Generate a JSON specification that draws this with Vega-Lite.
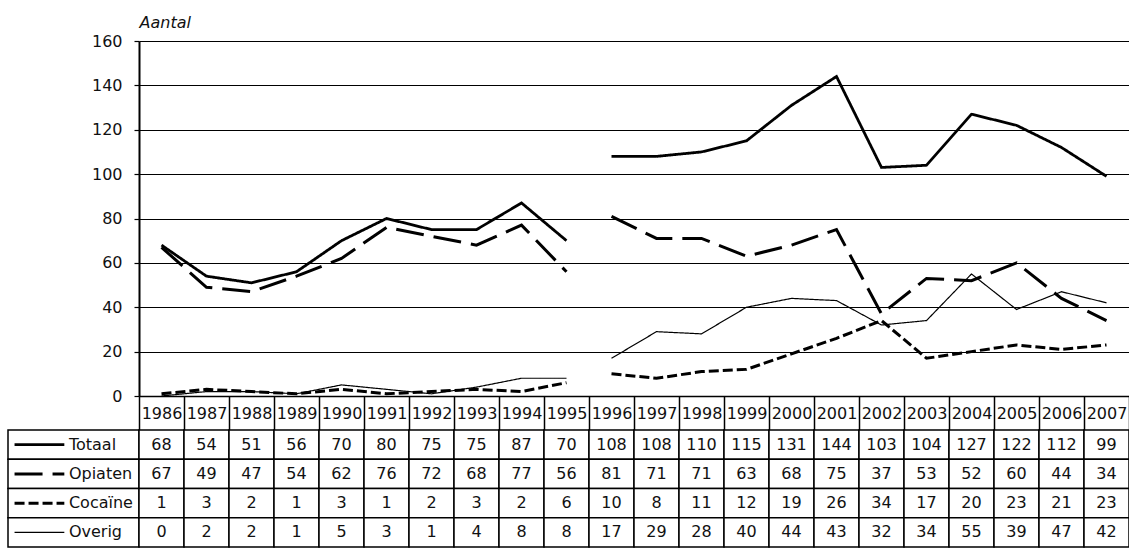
{
  "$schema": "https://vega.github.io/schema/vega-lite/v6.json",
  "padding": {"left": 7, "top": 14, "right": 0, "bottom": 0},
  "config": {
    "view": {"stroke": null},
    "font": "DejaVu Sans",
    "text": {"font": "DejaVu Sans", "fontSize": 16, "color": "#111"}
  },
  "datasets": {
    "drugs": [
      {"jaar": 1986, "reeks": "Totaal", "aantal": 68, "periode": "A"},
      {"jaar": 1987, "reeks": "Totaal", "aantal": 54, "periode": "A"},
      {"jaar": 1988, "reeks": "Totaal", "aantal": 51, "periode": "A"},
      {"jaar": 1989, "reeks": "Totaal", "aantal": 56, "periode": "A"},
      {"jaar": 1990, "reeks": "Totaal", "aantal": 70, "periode": "A"},
      {"jaar": 1991, "reeks": "Totaal", "aantal": 80, "periode": "A"},
      {"jaar": 1992, "reeks": "Totaal", "aantal": 75, "periode": "A"},
      {"jaar": 1993, "reeks": "Totaal", "aantal": 75, "periode": "A"},
      {"jaar": 1994, "reeks": "Totaal", "aantal": 87, "periode": "A"},
      {"jaar": 1995, "reeks": "Totaal", "aantal": 70, "periode": "A"},
      {"jaar": 1996, "reeks": "Totaal", "aantal": 108, "periode": "B"},
      {"jaar": 1997, "reeks": "Totaal", "aantal": 108, "periode": "B"},
      {"jaar": 1998, "reeks": "Totaal", "aantal": 110, "periode": "B"},
      {"jaar": 1999, "reeks": "Totaal", "aantal": 115, "periode": "B"},
      {"jaar": 2000, "reeks": "Totaal", "aantal": 131, "periode": "B"},
      {"jaar": 2001, "reeks": "Totaal", "aantal": 144, "periode": "B"},
      {"jaar": 2002, "reeks": "Totaal", "aantal": 103, "periode": "B"},
      {"jaar": 2003, "reeks": "Totaal", "aantal": 104, "periode": "B"},
      {"jaar": 2004, "reeks": "Totaal", "aantal": 127, "periode": "B"},
      {"jaar": 2005, "reeks": "Totaal", "aantal": 122, "periode": "B"},
      {"jaar": 2006, "reeks": "Totaal", "aantal": 112, "periode": "B"},
      {"jaar": 2007, "reeks": "Totaal", "aantal": 99, "periode": "B"},
      {"jaar": 1986, "reeks": "Opiaten", "aantal": 67, "periode": "A"},
      {"jaar": 1987, "reeks": "Opiaten", "aantal": 49, "periode": "A"},
      {"jaar": 1988, "reeks": "Opiaten", "aantal": 47, "periode": "A"},
      {"jaar": 1989, "reeks": "Opiaten", "aantal": 54, "periode": "A"},
      {"jaar": 1990, "reeks": "Opiaten", "aantal": 62, "periode": "A"},
      {"jaar": 1991, "reeks": "Opiaten", "aantal": 76, "periode": "A"},
      {"jaar": 1992, "reeks": "Opiaten", "aantal": 72, "periode": "A"},
      {"jaar": 1993, "reeks": "Opiaten", "aantal": 68, "periode": "A"},
      {"jaar": 1994, "reeks": "Opiaten", "aantal": 77, "periode": "A"},
      {"jaar": 1995, "reeks": "Opiaten", "aantal": 56, "periode": "A"},
      {"jaar": 1996, "reeks": "Opiaten", "aantal": 81, "periode": "B"},
      {"jaar": 1997, "reeks": "Opiaten", "aantal": 71, "periode": "B"},
      {"jaar": 1998, "reeks": "Opiaten", "aantal": 71, "periode": "B"},
      {"jaar": 1999, "reeks": "Opiaten", "aantal": 63, "periode": "B"},
      {"jaar": 2000, "reeks": "Opiaten", "aantal": 68, "periode": "B"},
      {"jaar": 2001, "reeks": "Opiaten", "aantal": 75, "periode": "B"},
      {"jaar": 2002, "reeks": "Opiaten", "aantal": 37, "periode": "B"},
      {"jaar": 2003, "reeks": "Opiaten", "aantal": 53, "periode": "B"},
      {"jaar": 2004, "reeks": "Opiaten", "aantal": 52, "periode": "B"},
      {"jaar": 2005, "reeks": "Opiaten", "aantal": 60, "periode": "B"},
      {"jaar": 2006, "reeks": "Opiaten", "aantal": 44, "periode": "B"},
      {"jaar": 2007, "reeks": "Opiaten", "aantal": 34, "periode": "B"},
      {"jaar": 1986, "reeks": "Cocaïne", "aantal": 1, "periode": "A"},
      {"jaar": 1987, "reeks": "Cocaïne", "aantal": 3, "periode": "A"},
      {"jaar": 1988, "reeks": "Cocaïne", "aantal": 2, "periode": "A"},
      {"jaar": 1989, "reeks": "Cocaïne", "aantal": 1, "periode": "A"},
      {"jaar": 1990, "reeks": "Cocaïne", "aantal": 3, "periode": "A"},
      {"jaar": 1991, "reeks": "Cocaïne", "aantal": 1, "periode": "A"},
      {"jaar": 1992, "reeks": "Cocaïne", "aantal": 2, "periode": "A"},
      {"jaar": 1993, "reeks": "Cocaïne", "aantal": 3, "periode": "A"},
      {"jaar": 1994, "reeks": "Cocaïne", "aantal": 2, "periode": "A"},
      {"jaar": 1995, "reeks": "Cocaïne", "aantal": 6, "periode": "A"},
      {"jaar": 1996, "reeks": "Cocaïne", "aantal": 10, "periode": "B"},
      {"jaar": 1997, "reeks": "Cocaïne", "aantal": 8, "periode": "B"},
      {"jaar": 1998, "reeks": "Cocaïne", "aantal": 11, "periode": "B"},
      {"jaar": 1999, "reeks": "Cocaïne", "aantal": 12, "periode": "B"},
      {"jaar": 2000, "reeks": "Cocaïne", "aantal": 19, "periode": "B"},
      {"jaar": 2001, "reeks": "Cocaïne", "aantal": 26, "periode": "B"},
      {"jaar": 2002, "reeks": "Cocaïne", "aantal": 34, "periode": "B"},
      {"jaar": 2003, "reeks": "Cocaïne", "aantal": 17, "periode": "B"},
      {"jaar": 2004, "reeks": "Cocaïne", "aantal": 20, "periode": "B"},
      {"jaar": 2005, "reeks": "Cocaïne", "aantal": 23, "periode": "B"},
      {"jaar": 2006, "reeks": "Cocaïne", "aantal": 21, "periode": "B"},
      {"jaar": 2007, "reeks": "Cocaïne", "aantal": 23, "periode": "B"},
      {"jaar": 1986, "reeks": "Overig", "aantal": 0, "periode": "A"},
      {"jaar": 1987, "reeks": "Overig", "aantal": 2, "periode": "A"},
      {"jaar": 1988, "reeks": "Overig", "aantal": 2, "periode": "A"},
      {"jaar": 1989, "reeks": "Overig", "aantal": 1, "periode": "A"},
      {"jaar": 1990, "reeks": "Overig", "aantal": 5, "periode": "A"},
      {"jaar": 1991, "reeks": "Overig", "aantal": 3, "periode": "A"},
      {"jaar": 1992, "reeks": "Overig", "aantal": 1, "periode": "A"},
      {"jaar": 1993, "reeks": "Overig", "aantal": 4, "periode": "A"},
      {"jaar": 1994, "reeks": "Overig", "aantal": 8, "periode": "A"},
      {"jaar": 1995, "reeks": "Overig", "aantal": 8, "periode": "A"},
      {"jaar": 1996, "reeks": "Overig", "aantal": 17, "periode": "B"},
      {"jaar": 1997, "reeks": "Overig", "aantal": 29, "periode": "B"},
      {"jaar": 1998, "reeks": "Overig", "aantal": 28, "periode": "B"},
      {"jaar": 1999, "reeks": "Overig", "aantal": 40, "periode": "B"},
      {"jaar": 2000, "reeks": "Overig", "aantal": 44, "periode": "B"},
      {"jaar": 2001, "reeks": "Overig", "aantal": 43, "periode": "B"},
      {"jaar": 2002, "reeks": "Overig", "aantal": 32, "periode": "B"},
      {"jaar": 2003, "reeks": "Overig", "aantal": 34, "periode": "B"},
      {"jaar": 2004, "reeks": "Overig", "aantal": 55, "periode": "B"},
      {"jaar": 2005, "reeks": "Overig", "aantal": 39, "periode": "B"},
      {"jaar": 2006, "reeks": "Overig", "aantal": 47, "periode": "B"},
      {"jaar": 2007, "reeks": "Overig", "aantal": 42, "periode": "B"}
    ]
  },
  "columns": 2,
  "spacing": {"row": 34, "column": 0},
  "bounds": "flush",
  "concat": [
    {
      "width": 131,
      "height": 355,
      "data": {"values": []},
      "mark": "text",
      "encoding": {}
    },
    {
      "width": 990,
      "height": 355,
      "data": {"name": "drugs"},
      "mark": {"type": "line", "strokeCap": "butt", "strokeJoin": "miter", "color": "#000"},
      "encoding": {
        "x": {
          "field": "jaar", "type": "ordinal",
          "scale": {"type": "band", "paddingInner": 0, "paddingOuter": 0},
          "axis": {
            "title": null, "orient": "bottom", "tickBand": "extent",
            "tickSize": 34, "tickColor": "#000", "tickWidth": 1.5,
            "domain": true, "domainColor": "#000", "domainWidth": 1.5,
            "labelAngle": 0, "labelBaseline": "middle", "labelPadding": -17,
            "labelFontSize": 16, "labelColor": "#111", "labelFont": "DejaVu Sans"
          }
        },
        "y": {
          "field": "aantal", "type": "quantitative",
          "scale": {"domain": [0, 160], "nice": false},
          "axis": {
            "values": [0, 20, 40, 60, 80, 100, 120, 140, 160],
            "title": "Aantal", "titleAngle": 0, "titleAlign": "left", "titleBaseline": "middle",
            "titleX": 0, "titleY": -19, "titleFontStyle": "italic", "titleFontWeight": "normal",
            "titleFontSize": 16, "titleColor": "#111", "titleFont": "DejaVu Sans",
            "grid": true, "gridColor": "#000", "gridWidth": 1.2, "gridOpacity": 1,
            "domainColor": "#000", "domainWidth": 2,
            "tickColor": "#000", "tickSize": 5, "tickWidth": 1.2,
            "labelPadding": 12, "labelFontSize": 16, "labelColor": "#111", "labelFont": "DejaVu Sans"
          }
        },
        "detail": {"field": "periode"},
        "strokeDash": {
          "field": "reeks", "type": "nominal",
          "scale": {"domain": ["Totaal", "Opiaten", "Cocaïne", "Overig"], "range": [[1, 0], [28, 10], [10, 4], [1, 0]]},
          "legend": null
        },
        "strokeWidth": {
          "field": "reeks", "type": "nominal",
          "scale": {"type": "ordinal", "domain": ["Totaal", "Opiaten", "Cocaïne", "Overig"], "range": [2.8, 3, 3, 1.2]},
          "legend": null
        }
      }
    },
    {
      "width": 131,
      "height": 117,
      "data": {"name": "drugs"},
      "transform": [{"filter": "datum.jaar === 1986"}],
      "encoding": {
        "y": {
          "field": "reeks", "type": "nominal",
          "scale": {"type": "band", "domain": ["Totaal", "Opiaten", "Cocaïne", "Overig"], "paddingInner": 0, "paddingOuter": 0},
          "axis": null
        }
      },
      "layer": [
        {
          "mark": {"type": "rect", "fill": "#fff", "stroke": "#000", "strokeWidth": 1.5},
          "encoding": {
            "x": {"datum": 0, "type": "quantitative", "scale": {"domain": [0, 1], "nice": false, "zero": false}, "axis": null},
            "x2": {"datum": 1}
          }
        },
        {
          "mark": {"type": "rule", "color": "#000", "strokeCap": "butt"},
          "encoding": {
            "x": {"datum": 0.05, "type": "quantitative"},
            "x2": {"datum": 0.43},
            "strokeDash": {
              "field": "reeks", "type": "nominal",
              "scale": {"domain": ["Totaal", "Opiaten", "Cocaïne", "Overig"], "range": [[1, 0], [28, 10], [10, 4], [1, 0]]},
              "legend": null
            },
            "strokeWidth": {
              "field": "reeks", "type": "nominal",
              "scale": {"type": "ordinal", "domain": ["Totaal", "Opiaten", "Cocaïne", "Overig"], "range": [2.8, 3, 3, 1.2]},
              "legend": null
            }
          }
        },
        {
          "mark": {"type": "text", "align": "left", "baseline": "middle", "fontSize": 16, "color": "#111"},
          "encoding": {
            "x": {"datum": 0.465, "type": "quantitative"},
            "text": {"field": "reeks"}
          }
        }
      ]
    },
    {
      "width": 990,
      "height": 117,
      "data": {"name": "drugs"},
      "encoding": {
        "x": {"field": "jaar", "type": "ordinal", "scale": {"type": "band", "paddingInner": 0, "paddingOuter": 0}, "axis": null},
        "y": {
          "field": "reeks", "type": "nominal",
          "scale": {"type": "band", "domain": ["Totaal", "Opiaten", "Cocaïne", "Overig"], "paddingInner": 0, "paddingOuter": 0},
          "axis": null
        }
      },
      "layer": [
        {"mark": {"type": "rect", "fill": "#fff", "stroke": "#000", "strokeWidth": 1.5}},
        {
          "mark": {"type": "text", "align": "center", "baseline": "middle", "fontSize": 16, "color": "#111"},
          "encoding": {"text": {"field": "aantal", "type": "quantitative"}}
        }
      ]
    }
  ]
}
